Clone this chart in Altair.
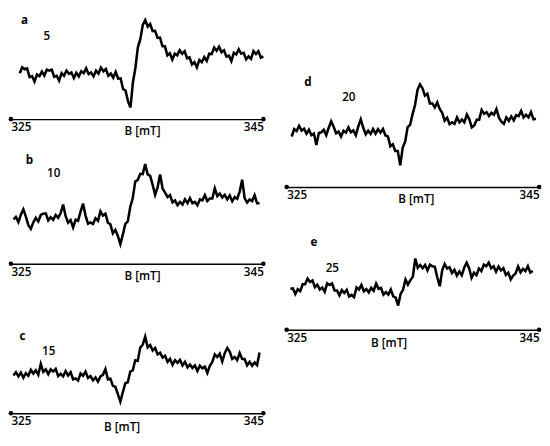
import altair as alt
import numpy as np
import pandas as pd

# ---- data (intensity in arbitrary units, baseline ~ 0) ----
letters = ["a", "b", "c", "d", "e"]
numbers = ["5", "10", "15", "20", "25"]
tick_values = [325, 345]
axis_title = "B [mT]"

# field range swept by each trace (mT)
field_start = [325.7, 325.2, 325.2, 325.4, 325.3]
field_end = [345.0, 344.7, 344.7, 344.75, 344.5]

sig_a = [-1, 17, 11, 14, -13, -10, -27, -5, -10, 4, -9, 10, 7, 10, -12, -9, -24, -1, -9, 7,
         -3, 1, -16, 0, -11, 5, -1, 14, -4, 1, -11, 7, -2, 16, 5, 12, -9, -2, -15, 3,
         -18, -17, -50, -55, -88, -107, -29, 15, 79, 104, 148, 163, 143, 151, 129, 130, 108, 109, 82, 82,
         54, 61, 41, 59, 54, 70, 59, 67, 45, 48, 26, 33, 17, 40, 33, 49, 37, 59, 58, 78,
         68, 81, 64, 70, 50, 53, 36, 62, 57, 73, 59, 62, 42, 51, 43, 67, 58, 67, 47, 51]

sig_b = [-1, 7, -9, 14, 30, 8, -19, -30, -10, 4, -7, 13, 17, 18, -4, 6, -2, 13, 4, 19,
         45, 9, -11, -3, -26, -2, -5, 23, 48, 11, -14, -10, -15, 3, -5, 24, 11, 17, -11, -16,
         -44, -33, -52, -77, -48, -15, -7, 38, 65, 116, 121, 140, 139, 170, 138, 134, 106, 75, 99, 138,
         94, 82, 68, 74, 52, 58, 43, 53, 45, 61, 49, 65, 49, 53, 43, 61, 58, 74, 56, 64,
         64, 95, 71, 79, 67, 75, 61, 73, 55, 68, 63, 85, 122, 64, 51, 61, 56, 74, 49, 49]

sig_c = [-6, 4, -9, 3, -13, 1, -7, 11, 0, 10, -4, 30, 5, 13, -2, 13, 6, 14, -8, -1,
         -9, 7, -6, 4, -18, -15, -22, 0, -7, 6, -14, -8, -21, -12, -25, -9, -4, 14, -18, -16,
         -38, -41, -64, -87, -58, -30, -27, 6, 10, 41, 39, 80, 89, 114, 81, 88, 71, 79, 59, 64,
         49, 55, 36, 45, 27, 41, 33, 42, 25, 36, 19, 28, 17, 25, 8, 24, 16, 21, 2, 24,
         36, 59, 51, 61, 37, 63, 79, 68, 45, 51, 41, 63, 45, 45, 25, 36, 24, 34, 26, 65]

sig_d = [-16, 7, 1, 17, 2, 8, -7, 5, -12, -7, -42, -5, -3, 5, -12, 11, 31, 14, -6, -1,
         -16, 2, -4, 12, -3, 3, -12, 15, 37, 11, -9, 2, -8, 7, -7, 7, -4, 7, -13, -16,
         -46, -40, -61, -61, -105, -50, -32, 13, 20, 53, 81, 128, 145, 133, 110, 116, 86, 86, 74, 89,
         69, 57, 33, 42, 22, 28, 23, 43, 28, 36, 28, 52, 37, 12, 18, 36, 36, 66, 54, 59,
         47, 57, 51, 69, 42, 30, 23, 43, 32, 46, 34, 50, 47, 63, 43, 51, 43, 59, 37, 39]

sig_e = [-1, 0, -17, -2, -8, 13, 13, 31, 20, 25, 4, 12, -3, 3, -10, 16, 11, 16, -6, -6,
         -21, -5, -14, -4, -25, -20, -27, 3, -3, 11, -9, -2, -12, 2, -7, 15, -1, 2, -19, -11,
         -19, -3, -24, -28, -53, -17, -4, 28, 12, 26, 36, 93, 64, 73, 63, 73, 56, 74, 69, 67,
         34, 7, 56, 76, 62, 66, 48, 58, 40, 53, 41, 65, 80, 63, 33, 49, 41, 62, 54, 74,
         69, 80, 63, 69, 52, 68, 56, 63, 42, 49, 28, 40, 47, 68, 50, 61, 54, 69, 49, 54]

signals = [sig_a, sig_b, sig_c, sig_d, sig_e]

# ---- layout / style (not data) ----
PW = 260
heights = [108, 131, 136, 178, 129]
ydomains = [[-143, 181], [-138, 255], [-123, 285], [-172, 361], [-128, 260]]
letter_pos = [(14, 6), (19, 24), (12, 57), (22, 70), (28, 39)]
number_pos = [(37, 22), (44, 38), (39, 72), (64, 85), (47, 65)]
title_x = [135, 135, 114, 133, 105]
title_y = [12, 12, 14, 12, 13]
FONT = "Open Sans"


def panel(i):
    sig = signals[i]
    h = heights[i]
    df = pd.DataFrame({
        "B": np.linspace(field_start[i], field_end[i], len(sig)),
        "I": sig,
    })
    x = alt.X(
        "B:Q",
        scale=alt.Scale(domain=[325, 345], nice=False, zero=False),
        axis=alt.Axis(
            values=tick_values, format="d", ticks=False, grid=False,
            labelFlush=True, labelPadding=3, labelFont=FONT, labelFontSize=12,
            labelFontWeight=600, labelColor="black",
            domainColor="black", domainWidth=1.5,
            title=axis_title, titleX=title_x[i], titleY=title_y[i],
            titleBaseline="middle", titleAlign="center", titleFont=FONT,
            titleFontSize=12, titleFontWeight=600, titleColor="black",
        ),
    )
    y = alt.Y("I:Q", scale=alt.Scale(domain=ydomains[i], nice=False, zero=False), axis=None)
    line = alt.Chart(df).mark_line(
        color="black", strokeWidth=2.6, strokeJoin="miter"
    ).encode(x=x, y=y)
    dots = alt.Chart(pd.DataFrame({"B": tick_values})).mark_circle(
        color="black", size=22, opacity=1
    ).encode(x=x, y=alt.value(h))
    lt = alt.Chart(pd.DataFrame({"t": [letters[i]]})).mark_text(
        font=FONT, fontSize=12, fontWeight="bold", color="black", baseline="middle"
    ).encode(x=alt.value(letter_pos[i][0]), y=alt.value(letter_pos[i][1]), text="t:N")
    nt = alt.Chart(pd.DataFrame({"t": [numbers[i]]})).mark_text(
        font=FONT, fontSize=12, fontWeight=600, color="black", baseline="middle"
    ).encode(x=alt.value(number_pos[i][0]), y=alt.value(number_pos[i][1]), text="t:N")
    return alt.layer(line, dots, lt, nt).properties(width=PW, height=h)


left = alt.vconcat(panel(0), panel(1), panel(2), spacing=0)
right = alt.vconcat(panel(3), panel(4), spacing=0)
chart = alt.hconcat(left, right, spacing=15).properties(padding=0).configure_view(stroke=None)

chart.save("out.html", embed_options={"renderer": "svg", "actions": False})
